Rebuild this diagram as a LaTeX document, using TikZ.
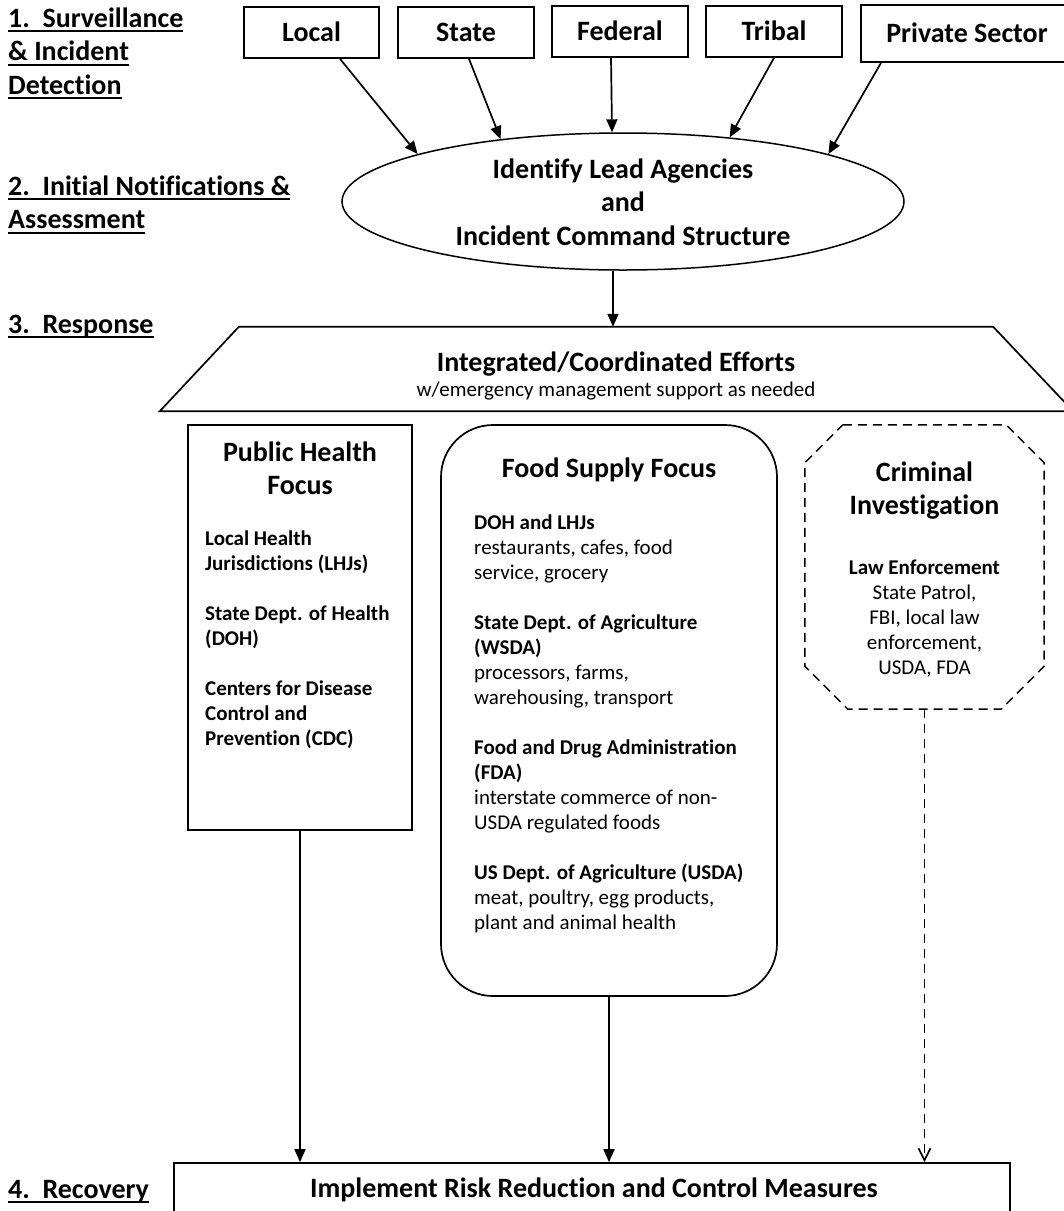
\documentclass[tikz,border=0pt]{standalone}
\usepackage{fontspec}
\setmainfont{Carlito}[Ligatures=CommonOff]
\usetikzlibrary{arrows.meta,shapes.geometric,calc}
\newcommand\ulab[1]{\setbox0\hbox{#1}\rlap{\rule[-5pt]{\wd0}{1.8pt}}\box0}
\newcommand\fsH{\fontsize{28}{33.5}\selectfont\bfseries}
\newcommand\fsS{\fontsize{21}{25.06}\selectfont}
\newcommand\cln[1]{\hbox to 0pt{\hss#1\hss}}
\newcommand\lln[1]{\hbox{#1}}
\newcommand\blankln{\hbox{}}
\tikzset{
  lw/.style={line width=1.7pt},
  shapebox/.style={draw, lw, inner sep=0pt},
  topbox/.style={draw, lw, inner sep=0pt, minimum height=51pt, text height=18pt, text depth=0pt, font=\fsH},
  txt/.style={inner sep=0pt},
  arr/.style={lw, -{Triangle[length=13pt,width=11pt]}},
  darr/.style={lw, dash pattern=on 9pt off 6pt, -{Straight Barb[length=12pt,width=12pt]}},
}
\begin{document}
\begin{tikzpicture}[x=1pt,y=-1pt]
\useasboundingbox (0,0) rectangle (1064,1211);
\clip (0,0) rectangle (1064,1211);
\fill[white] (0,0) rectangle (1064,1211);

% stage labels
\node[txt, anchor=base west] (lab1) at (8,27) {\vtop{\fsH\lln{\ulab{1.~~Surveillance}}\lln{\ulab{\&~Incident}}\lln{\ulab{Detection}}}};
\node[txt, anchor=base west] (lab2) at (8,195) {\vtop{\fsH\lln{\ulab{2.~~Initial Notifications \&}}\lln{\ulab{Assessment}}}};
\node[txt, anchor=base west] (lab3) at (8,333) {\fsH\ulab{3.~~Response}};
\node[txt, anchor=base west] (lab4) at (8,1198) {\fsH\ulab{4.~~Recovery}};

% top boxes
\node[topbox, minimum width=135pt] (local) at (311.5,32.5) {Local};
\node[topbox, minimum width=136pt] (state) at (466,32.5) {State};
\node[topbox, minimum width=136pt] (federal) at (620,31.5) {Federal};
\node[topbox, minimum width=136pt] (tribal) at (774,31.5) {Tribal};
\node[topbox, minimum width=212pt, minimum height=57pt] (private) at (967,33.5) {Private Sector};

% ellipse
\node[shapebox, ellipse, line width=1.5pt, minimum width=562pt, minimum height=137pt] (ell) at (623,201.5) {};
\node[txt, anchor=base] (ellT) at (623,178) {\vtop{\fsH\cln{Identify Lead Agencies}\cln{and}\cln{Incident Command Structure}}};

\draw[arr] ([xshift=28.5pt]local.south) -- (ell.167.7);
\draw[arr] ([xshift=3pt]state.south) -- (ell.153.8);
\draw[arr] ([xshift=-9pt]federal.south) -- (ell.99.8);
\draw[arr] (tribal.south) -- (ell.31.3);
\draw[arr] ([xshift=-86pt]private.south) -- (ell.13.9);

% trapezoid
\node[txt, minimum width=754pt, minimum height=84pt] (trap) at (616,369) {};
\draw[lw, line join=miter] (trap.north west) -- (trap.north east) -- ([xshift=80pt]trap.south east) -- ([xshift=-79pt]trap.south west) -- cycle;
\node[txt, anchor=base] (trapT) at (616,371) {\vtop{\fsH\cln{Integrated/Coordinated Efforts}\fsS\mdseries\cln{w/emergency management support as needed}}};
\draw[arr] ([xshift=-10pt]ell.south) -- ([xshift=-10pt]ell.south |- trap.north);

% public health
\node[shapebox, minimum width=224pt, minimum height=405pt] (ph) at (300,627.5) {};
\node[txt, anchor=base] (phT) at (300,461) {\vtop{\fsH\cln{Public Health}\cln{Focus}}};
\node[txt, anchor=base west] (phL) at (205,545) {\vtop{\fsS\bfseries\lln{Local Health}\lln{Jurisdictions (LHJs)}\blankln\lln{State Dept. of Health}\lln{(DOH)}\blankln\lln{Centers for Disease}\lln{Control and}\lln{Prevention (CDC)}}};

% food supply
\node[shapebox, rounded corners=52pt, minimum width=336pt, minimum height=571pt] (food) at (609,710.5) {};
\node[txt, anchor=base] (foodT) at (609,477) {\fsH Food Supply Focus};
\node[txt, anchor=base west] (foodL) at (474,529) {\vtop{\fsS
  \lln{\bfseries DOH and LHJs}\lln{restaurants, cafes, food}\lln{service, grocery}\blankln
  \lln{\bfseries State Dept. of Agriculture}\lln{\bfseries (WSDA)}\lln{processors, farms,}\lln{warehousing, transport}\blankln
  \lln{\bfseries Food and Drug Administration}\lln{\bfseries (FDA)}\lln{interstate commerce of non-}\lln{USDA regulated foods}\blankln
  \lln{\bfseries US Dept. of Agriculture (USDA)}\lln{meat, poultry, egg products,}\lln{plant and animal health}}};

% criminal investigation
\node[txt, minimum width=239pt, minimum height=284pt] (crim) at (924.5,567) {};
\draw[lw, line width=1.5pt, dash pattern=on 9pt off 6pt]
  ([xshift=38pt]crim.north west) -- ([xshift=-38pt]crim.north east) -- ([yshift=-38pt]crim.north east)
  -- ([yshift=43pt]crim.south east) -- ([xshift=-43pt]crim.south east) -- ([xshift=43pt]crim.south west)
  -- ([yshift=43pt]crim.south west) -- ([yshift=-38pt]crim.north west) -- cycle;
\node[txt, anchor=base] (crimT) at (924.5,481) {\vtop{\fsH\cln{Criminal}\cln{Investigation}}};
\node[txt, anchor=base] (crimL) at (924.5,574) {\vtop{\fsS\cln{\bfseries Law Enforcement}\cln{State Patrol,}\cln{FBI, local law}\cln{enforcement,}\cln{USDA, FDA}}};

% recovery box
\node[shapebox, minimum width=836pt, minimum height=80pt] (rec) at (592,1203) {};
\node[txt, anchor=base] (recT) at (594,1197) {\fsH Implement Risk Reduction and Control Measures};

\draw[arr] (ph.south) -- (ph.south |- rec.north);
\draw[arr] (food.south) -- (food.south |- rec.north);
\draw[darr] (crim.south) -- (crim.south |- rec.north);
\end{tikzpicture}
\end{document}
